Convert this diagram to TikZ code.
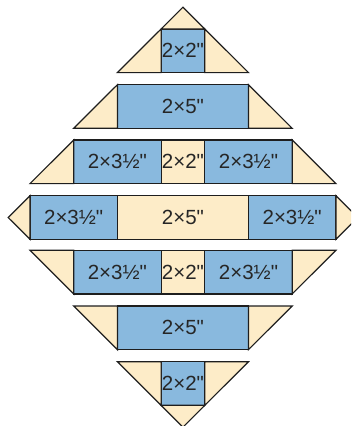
\documentclass[tikz,border=0pt]{standalone}
\usepackage{fontspec}
\setmainfont{Liberation Sans}
\usetikzlibrary{calc}
\definecolor{pblue}{HTML}{89B9DE}
\definecolor{pcream}{HTML}{FDECC8}
\definecolor{pline}{HTML}{1E1E1E}
\definecolor{ptext}{HTML}{262626}
\newcommand{\qd}{\textquotedbl}
\begin{document}
\begin{tikzpicture}[x=1pt,y=-1pt,
  piece/.style={draw=pline, line width=1.2pt, rectangle, inner sep=0pt, outer sep=0pt,
    anchor=north west, minimum height=43.6pt, text=ptext,
    font=\fontsize{20.5}{20.5}\selectfont},
  bluep/.style={piece, fill=pblue},
  creamp/.style={piece, fill=pcream},
  tri/.style={fill=pcream, draw=pline, line width=1.2pt, line join=miter}]
\useasboundingbox (0,0) rectangle (351,426);
\clip (0,0) rectangle (351,426);
% row 1
\node[bluep, minimum width=43.7pt] (a1) at (161.1,29) {2×2\qd};
\draw[tri] (a1.north west) -- (a1.north east) -- ($(a1.north)+(0,-21.85)$) -- cycle;
\draw[tri] (a1.south west) -- ++(-43.7,0) -- (a1.north west) -- cycle;
\draw[tri] (a1.south east) -- ++(43.7,0) -- (a1.north east) -- cycle;
% row 2
\node[bluep, minimum width=131.1pt] (b1) at (117.4,84.7) {2×5\qd};
\draw[tri] (b1.south west) -- ++(-43.7,0) -- (b1.north west) -- cycle;
\draw[tri] (b1.south east) -- ++(43.7,0) -- (b1.north east) -- cycle;
% row 3
\node[bluep, minimum width=87.4pt] (c1) at (73.7,140) {2×3½\qd};
\node[creamp, minimum width=43.7pt] (c2) at (161.1,140) {2×2\qd};
\node[bluep, minimum width=87.4pt] (c3) at (204.8,140) {2×3½\qd};
\draw[tri] (c1.south west) -- ++(-43.7,0) -- (c1.north west) -- cycle;
\draw[tri] (c3.south east) -- ++(43.7,0) -- (c3.north east) -- cycle;
% row 4
\node[bluep, minimum width=87.4pt] (d1) at (30,195.7) {2×3½\qd};
\node[creamp, minimum width=131.1pt] (d2) at (117.4,195.7) {2×5\qd};
\node[bluep, minimum width=87.4pt] (d3) at (248.5,195.7) {2×3½\qd};
\draw[tri] (d1.north west) -- ($(d1.west)+(-21.85,0)$) -- (d1.south west) -- cycle;
\draw[tri] (d3.north east) -- ($(d3.east)+(21.85,0)$) -- (d3.south east) -- cycle;
% row 5
\node[bluep, minimum width=87.4pt] (e1) at (73.7,250.3) {2×3½\qd};
\node[creamp, minimum width=43.7pt] (e2) at (161.1,250.3) {2×2\qd};
\node[bluep, minimum width=87.4pt] (e3) at (204.8,250.3) {2×3½\qd};
\draw[tri] (e1.north west) -- ++(-43.7,0) -- (e1.south west) -- cycle;
\draw[tri] (e3.north east) -- ++(43.7,0) -- (e3.south east) -- cycle;
% row 6
\node[bluep, minimum width=131.1pt] (f1) at (117.4,306) {2×5\qd};
\draw[tri] (f1.north west) -- ++(-43.7,0) -- (f1.south west) -- cycle;
\draw[tri] (f1.north east) -- ++(43.7,0) -- (f1.south east) -- cycle;
% row 7
\node[bluep, minimum width=43.7pt] (g1) at (161.1,361.7) {2×2\qd};
\draw[tri] (g1.north west) -- ++(-43.7,0) -- (g1.south west) -- cycle;
\draw[tri] (g1.north east) -- ++(43.7,0) -- (g1.south east) -- cycle;
\draw[tri] (g1.south west) -- (g1.south east) -- ($(g1.south)+(0,21.85)$) -- cycle;
\end{tikzpicture}
\end{document}
